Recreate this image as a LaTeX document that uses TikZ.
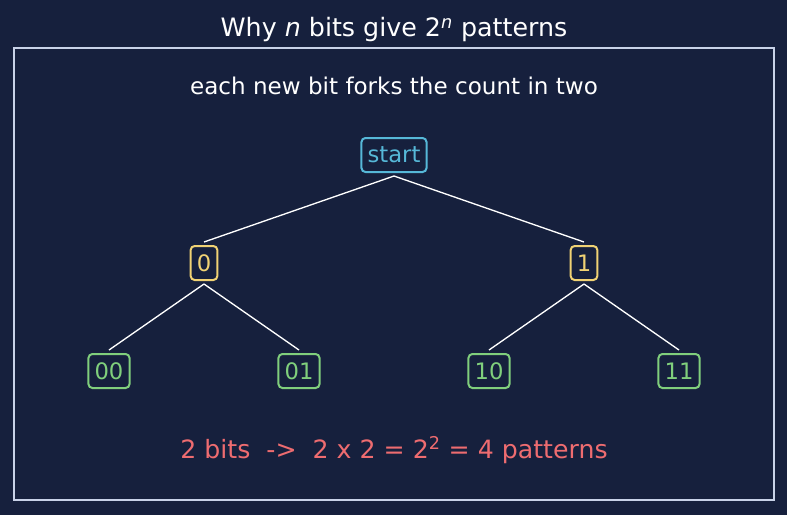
\documentclass[tikz,border=0pt]{standalone}
\usepackage{fontspec}
\setmainfont{DejaVu Sans}
\definecolor{bg}{HTML}{16203D}
\definecolor{frame}{HTML}{C8D2E8}
\definecolor{cstart}{HTML}{56B8D8}
\definecolor{cmid}{HTML}{F0D274}
\definecolor{cleaf}{HTML}{80CF7C}
\definecolor{cnote}{HTML}{EE6C70}
\begin{document}
\begin{tikzpicture}[x=0.75pt,y=-0.75pt,
  box/.style={draw,line width=1.5pt,rounded corners=3pt,inner xsep=4.6pt,inner ysep=0pt,minimum height=25.5pt,font=\fontsize{17}{19}\selectfont,outer sep=3pt},
  startbox/.style={box,draw=cstart,text=cstart},
  midbox/.style={box,draw=cmid,text=cmid},
  leafbox/.style={box,draw=cleaf,text=cleaf},
  edge/.style={white,line width=1pt}]
\fill[bg] (0,0) rectangle (787,515);
\useasboundingbox (0,0) rectangle (787,515);
\node[draw=frame,line width=1.2pt,minimum width=760*0.75pt,minimum height=452*0.75pt,anchor=north west,inner sep=0pt,outer sep=0pt] (frame) at (14,48) {};
\node[text=white,font=\fontsize{19}{22}\selectfont] (title) at (394,30) {Why \textit{n} bits give 2\textsuperscript{\textit{n}} patterns};
\node[text=white,font=\fontsize{17.3}{20}\selectfont] (sub) at (394,86) {each new bit forks the count in two};
\node[startbox] (s) at (394,155) {start};
\node[midbox] (n0) at (204,263) {0};
\node[midbox] (n1) at (584,263) {1};
\node[leafbox] (n00) at (109,371) {00};
\node[leafbox] (n01) at (299,371) {01};
\node[leafbox] (n10) at (489,371) {10};
\node[leafbox] (n11) at (679,371) {11};
\draw[edge] (s.south) -- (n0.north);
\draw[edge] (s.south) -- (n1.north);
\draw[edge] (n0.south) -- (n00.north);
\draw[edge] (n0.south) -- (n01.north);
\draw[edge] (n1.south) -- (n10.north);
\draw[edge] (n1.south) -- (n11.north);
\node[text=cnote,font=\fontsize{18.9}{22}\selectfont] (note) at (394,450) {2 bits\ \ ->\ \ 2 x 2 = 2\textsuperscript{2} = 4 patterns};
\end{tikzpicture}
\end{document}
